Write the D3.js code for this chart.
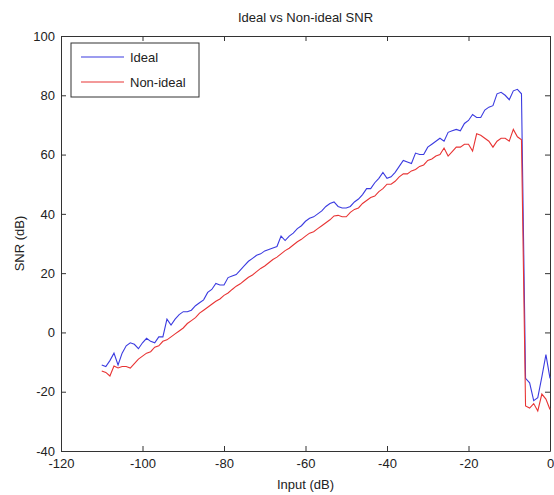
<!DOCTYPE html>
<html>
<head>
	<meta charset='utf-8'>
	<title>Ideal vs Non-ideal SNR</title>
	<script src='https://cdn.jsdelivr.net/npm/d3@7'></script>
	<style>
		body { margin: 0; background: #fff; }
		text { font-family: 'Liberation Sans', Arial, sans-serif; }
	</style>
</head>
<body>
	<svg width='554' height='495'></svg>
	<script>
		// input levels, -110 .. 0 dB in 1 dB steps
		const inputDb = d3.range(-110, 1, 1)
		const ideal = [
			-11, -11.5, -9.5, -7, -11, -7, -4.5, -3.5, -4, -5.5,
			-3.5, -2, -3, -3.5, -1.5, -1.5, 4.5, 2.5, 4.5, 6,
			7, 7, 7.5, 9, 10, 11, 13.5, 14.5, 16.5, 16,
			16, 18.5, 19, 19.5, 21, 22.5, 24, 25, 26, 26.5,
			27.5, 28, 28.5, 29, 32.5, 31, 32.5, 33.5, 35, 36,
			37.5, 38.5, 39, 40, 41, 42.5, 43.5, 44, 42.5, 42,
			42, 42.5, 44, 45, 46.5, 48.5, 48.5, 50.5, 52, 54,
			52, 52.5, 54, 56, 58, 57.5, 57, 60.5, 60, 60,
			62.5, 63.5, 64.5, 65.5, 64.5, 67.5, 68, 68.5, 68, 70.5,
			71.5, 73.5, 72.5, 72.5, 75, 76, 76.5, 80.5, 81, 80,
			78.5, 81.5, 82, 80.5, -15.5, -17, -23, -22, -15, -7.5,
			-15.5
		]
		const nonIdeal = [
			-13, -13.5, -14.7, -11.3, -12, -11.5, -11.5, -12, -10.5, -9,
			-8, -7, -6.5, -5, -4.5, -3, -2.5, -1.5, -0.5, 0.5,
			1.5, 3, 4, 5, 6.5, 7.5, 8.5, 9.5, 10.5, 11.3,
			12.5, 13.3, 14.5, 15.6, 16.4, 17.5, 18.6, 19.4, 20.5, 21.6,
			22.4, 23.5, 24.6, 25.4, 26.5, 27.6, 28.4, 29.5, 30.6, 31.4,
			32.5, 33.5, 34, 35, 36, 37, 38, 39.3, 39.5, 39,
			39, 40.5, 41.5, 42, 43.5, 44.5, 45.5, 46, 47.5, 48.5,
			50, 50, 51, 52.5, 53.5, 53.5, 54.5, 55, 56, 56.5,
			58, 58.5, 59.5, 60, 62.2, 59.5, 61, 62.5, 62.5, 63.5,
			63.5, 61.2, 67, 66.5, 65.5, 64.5, 62.5, 64.5, 65.5, 65.5,
			64.5, 68.5, 66, 65, -24.8, -25.5, -24, -26.5, -20.8, -22.5,
			-26
		]
		const xTicks = [-120, -100, -80, -60, -40, -20, 0]
		const yTicks = [-40, -20, 0, 20, 40, 60, 80, 100]
		const seriesNames = ['Ideal', 'Non-ideal']
		const seriesColors = ['#3b3be0', '#e83434']

		const svg = d3.select('svg')
		const margin = ({ top: 36, right: 4, bottom: 44, left: 61 })
		const width = +svg.attr('width')
		const height = +svg.attr('height')

		const x = d3.scaleLinear().domain([-120, 0]).range([margin.left, width - margin.right])
		const y = d3.scaleLinear().domain([-40, 100]).range([height - margin.bottom, margin.top])

		const axisColor = '#333'
		const tickLen = 5
		const fmt = d => String(d) // plain hyphen like the original

		// axes (MATLAB style: ticks inside, box all round)
		svg.append('g').attr('transform', `translate(0,${y(-40)})`)
			.call(d3.axisBottom(x).tickValues(xTicks).tickFormat(fmt).tickSizeInner(-tickLen).tickSizeOuter(0).tickPadding(8))
		svg.append('g').attr('transform', `translate(0,${y(100)})`)
			.call(d3.axisTop(x).tickValues(xTicks).tickSizeInner(-tickLen).tickSizeOuter(0).tickFormat(''))
		svg.append('g').attr('transform', `translate(${x(-120)},0)`)
			.call(d3.axisLeft(y).tickValues(yTicks).tickFormat(fmt).tickSizeInner(-tickLen).tickSizeOuter(0).tickPadding(6))
		svg.append('g').attr('transform', `translate(${x(0)},0)`)
			.call(d3.axisRight(y).tickValues(yTicks).tickSizeInner(-tickLen).tickSizeOuter(0).tickFormat(''))

		svg.selectAll('.domain').attr('stroke', axisColor)
		svg.selectAll('.tick line').attr('stroke', axisColor)
		svg.selectAll('.tick text').attr('fill', '#222').attr('font-size', 13)
			.attr('font-family', "'Liberation Sans', Arial, sans-serif")

		// lines
		const line = d3.line().x((d, i) => x(inputDb[i])).y(d => y(d))
		const plot = svg.append('g')
		;[ideal, nonIdeal].forEach((s, k) => {
			plot.append('path')
				.datum(s)
				.attr('fill', 'none')
				.attr('stroke', seriesColors[k])
				.attr('stroke-width', 1.1)
				.attr('d', line)
		})

		// titles
		svg.append('text')
			.attr('x', (x(-120) + x(0)) / 2).attr('y', 22)
			.attr('text-anchor', 'middle').attr('font-size', 13).attr('fill', '#222')
			.text('Ideal vs Non-ideal SNR')
		svg.append('text')
			.attr('x', (x(-120) + x(0)) / 2).attr('y', 489)
			.attr('text-anchor', 'middle').attr('font-size', 13).attr('fill', '#222')
			.text('Input (dB)')
		svg.append('text')
			.attr('transform', `translate(24,${(y(-40) + y(100)) / 2}) rotate(-90)`)
			.attr('text-anchor', 'middle').attr('font-size', 13).attr('fill', '#222')
			.text('SNR (dB)')

		// legend
		const lg = svg.append('g').attr('transform', 'translate(71,43)')
		lg.append('rect').attr('width', 128).attr('height', 54)
			.attr('fill', '#fff').attr('stroke', axisColor)
		seriesNames.forEach((name, k) => {
			const yy = 14 + k * 25
			lg.append('line').attr('x1', 10).attr('x2', 53).attr('y1', yy).attr('y2', yy)
				.attr('stroke', seriesColors[k]).attr('stroke-width', 1.1)
			lg.append('text').attr('x', 59).attr('y', yy + 5)
				.attr('font-size', 13).attr('fill', '#222').text(name)
		})
	</script>
</body>
</html>
